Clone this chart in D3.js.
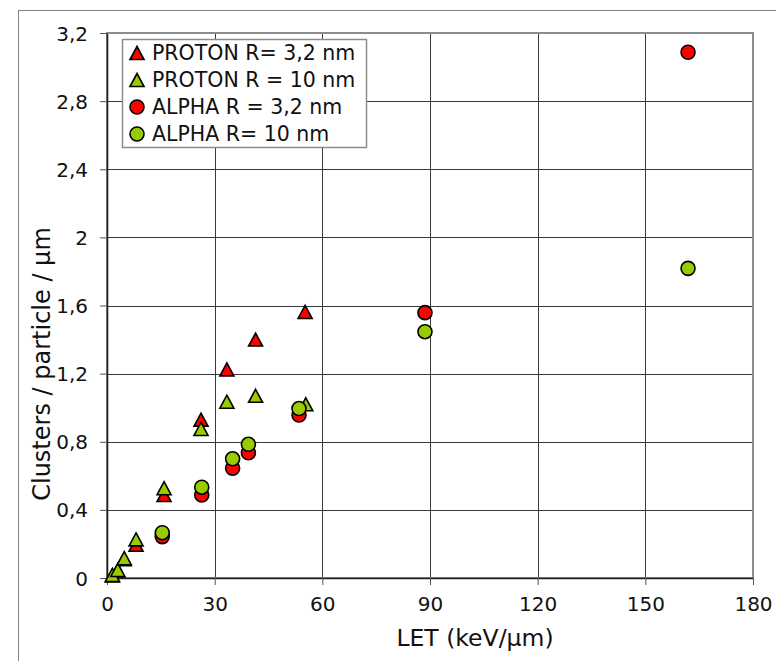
<!DOCTYPE html>
<html>
<head>
<meta charset="utf-8">
<script src="https://cdn.jsdelivr.net/npm/d3@7"></script>
<style>
  body { margin: 0; background: #fff; }
  svg { display: block; font-family: "DejaVu Sans", Verdana, sans-serif; }
</style>
</head>
<body>
<div id="chart"></div>
<script>
// LET (keV/µm) and clusters per particle per µm
const protonLet = [1.5, 3.0, 4.8, 8.1, 15.9, 26.2, 33.4, 41.4, 55.2];
const proton32 = [0.015, 0.045, 0.11, 0.195, 0.487, 0.93, 1.225, 1.40, 1.562];
const protonLet10 = [1.5, 3.0, 4.8, 8.1, 15.9, 26.2, 33.4, 41.4, 55.4];
const proton10 = [0.018, 0.047, 0.116, 0.227, 0.527, 0.875, 1.035, 1.07, 1.02];

const alphaLet = [15.4, 26.4, 35.0, 39.4, 53.5, 88.6, 161.9];
const alpha32 = [0.243, 0.487, 0.645, 0.735, 0.957, 1.558, 3.087];
const alpha10 = [0.266, 0.533, 0.70, 0.785, 0.995, 1.446, 1.818];

const xTicks = [0, 30, 60, 90, 120, 150, 180];
const yTicks = [0, 0.4, 0.8, 1.2, 1.6, 2, 2.4, 2.8, 3.2];

const seriesNames = ["PROTON R= 3,2 nm", "PROTON R = 10 nm", "ALPHA R = 3,2 nm", "ALPHA R= 10 nm"];

const RED = "#ff0000";
const GREEN = "#99cc00";

const series = [
  { name: seriesNames[0], shape: "tri", color: RED, xs: protonLet, ys: proton32 },
  { name: seriesNames[1], shape: "tri", color: GREEN, xs: protonLet10, ys: proton10 },
  { name: seriesNames[2], shape: "circle", color: RED, xs: alphaLet, ys: alpha32 },
  { name: seriesNames[3], shape: "circle", color: GREEN, xs: alphaLet, ys: alpha10 },
];

const W = 776, H = 661;
const plot = { left: 107, right: 753, top: 33, bottom: 578 };

const svg = d3.select("#chart").append("svg")
  .attr("width", W)
  .attr("height", H);

svg.append("rect").attr("width", W).attr("height", H).attr("fill", "#fff");

// outer chart frame
svg.append("rect")
  .attr("x", 18.5).attr("y", 10.5)
  .attr("width", W + 10).attr("height", H + 10)
  .attr("fill", "none")
  .attr("stroke", "#7f7f7f")
  .attr("stroke-width", 1);

const x = d3.scaleLinear().domain([0, 180]).range([plot.left, plot.right]);
const y = d3.scaleLinear().domain([0, 3.2]).range([plot.bottom, plot.top]);

const fmt = (d) => String(+d.toFixed(1)).replace(".", ",");

// gridlines
const grid = svg.append("g").attr("stroke", "#3a3a3a").attr("stroke-width", 1);
grid.selectAll("line.gx")
  .data(xTicks.slice(1, -1))
  .enter().append("line")
  .attr("x1", (d) => Math.round(x(d)) + 0.5)
  .attr("x2", (d) => Math.round(x(d)) + 0.5)
  .attr("y1", plot.top).attr("y2", plot.bottom);
grid.selectAll("line.gy")
  .data(yTicks.slice(1, -1))
  .enter().append("line")
  .attr("y1", (d) => Math.round(y(d)) + 0.5)
  .attr("y2", (d) => Math.round(y(d)) + 0.5)
  .attr("x1", plot.left).attr("x2", plot.right);

// plot border (top / right grey)
svg.append("rect")
  .attr("x", plot.left).attr("y", plot.top)
  .attr("width", plot.right - plot.left)
  .attr("height", plot.bottom - plot.top)
  .attr("fill", "none")
  .attr("stroke", "#8c8c8c")
  .attr("stroke-width", 2);

// axes
const xAxis = d3.axisBottom(x).tickValues(xTicks).tickSize(7).tickSizeOuter(0).tickPadding(12).tickFormat(fmt);
const yAxis = d3.axisLeft(y).tickValues(yTicks).tickSize(7).tickSizeOuter(0).tickPadding(12).tickFormat(fmt);

const xAxisG = svg.append("g")
  .attr("transform", `translate(0,${plot.bottom})`)
  .call(xAxis);
const yAxisG = svg.append("g")
  .attr("transform", `translate(${plot.left},0)`)
  .call(yAxis);

[xAxisG, yAxisG].forEach((g) => {
  g.select(".domain").attr("stroke", "#222").attr("stroke-width", 1.6);
  g.selectAll(".tick line").attr("stroke", "#555");
  g.selectAll(".tick text")
    .attr("fill", "#111")
    .style("font-size", "20px")
    .style("font-family", "'DejaVu Sans', Verdana, sans-serif");
});
yAxisG.selectAll(".tick text").attr("dy", "0.35em").attr("x", -19);

// axis titles
svg.append("text")
  .attr("x", 475)
  .attr("y", 646)
  .attr("text-anchor", "middle")
  .attr("fill", "#111")
  .style("font-size", "23.5px")
  .text("LET (keV/µm)");

svg.append("text")
  .attr("transform", `translate(50,364) rotate(-90)`)
  .attr("text-anchor", "middle")
  .attr("fill", "#111")
  .style("font-size", "24px")
  .text("Clusters / particle / µm");

// markers
const triPath = "M0,-6.5L7,6.5L-7,6.5Z";

function drawMarker(sel, s) {
  if (s.shape === "tri") {
    sel.append("path").attr("d", triPath);
  } else {
    sel.append("circle").attr("r", 7);
  }
  sel.selectAll("path, circle")
    .attr("fill", s.color)
    .attr("stroke", "#000")
    .attr("stroke-width", 1.6);
}

const marks = svg.append("g");
series.forEach((s) => {
  const pts = s.xs.map((v, i) => ({ x: v, y: s.ys[i] }));
  marks.append("g")
    .selectAll("g")
    .data(pts)
    .enter().append("g")
    .attr("transform", (d) => `translate(${x(d.x)},${y(d.y)})`)
    .each(function () { drawMarker(d3.select(this), s); });
});

// legend
const legend = svg.append("g").attr("transform", "translate(122,39)");
legend.append("rect")
  .attr("x", 0.5).attr("y", 0.5)
  .attr("width", 244).attr("height", 108)
  .attr("fill", "#fff")
  .attr("stroke", "#8c8c8c")
  .attr("stroke-width", 1.5);

const items = legend.selectAll("g.item")
  .data(series)
  .enter().append("g")
  .attr("transform", (_d, i) => `translate(0,${14 + i * 27})`);

items.each(function (s) {
  const g = d3.select(this).append("g").attr("transform", "translate(15,0)");
  drawMarker(g, s);
});

items.append("text")
  .attr("x", 30)
  .attr("y", 0)
  .attr("dy", "0.36em")
  .attr("fill", "#111")
  .style("font-size", "20.5px")
  .text((d) => d.name);
</script>
</body>
</html>
